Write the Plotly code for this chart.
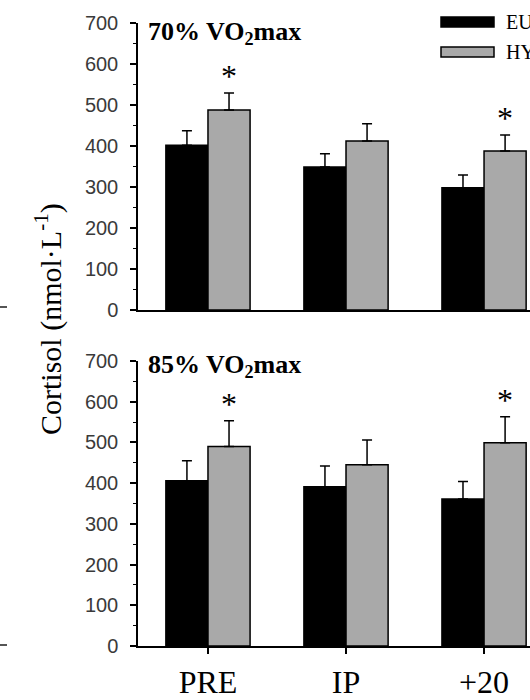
import plotly.graph_objects as go

# Sampling points
categories = ["PRE", "IP", "+20"]

# Cortisol (nmol·L-1), mean and SE, 70% VO2max session
eu_70 = [402, 349, 298]
eu_70_se = [35, 32, 31]
hy_70 = [488, 412, 388]
hy_70_se = [41, 42, 39]

# Cortisol (nmol·L-1), mean and SE, 85% VO2max session
eu_85 = [406, 391, 361]
eu_85_se = [49, 51, 43]
hy_85 = [490, 445, 499]
hy_85_se = [63, 61, 64]

# Significant EU vs HY differences
sig_70 = [True, False, True]
sig_85 = [True, False, True]

y_ticks = [0, 100, 200, 300, 400, 500, 600, 700]

W, H = 530, 700
L, R, T, B = 138, 0, 23, 54
plot_w = W - L - R
plot_h = H - T - B


def px_x(px):
    return (px - L) / plot_w


def px_y(py):
    return (H - B - py) / plot_h


SERIF = "Liberation Serif, Times New Roman, serif"
SANS = "Liberation Sans, Arial, sans-serif"
GRAY = "#a9a9a9"


def bar(x, y, se, color, xa, ya, name):
    return go.Bar(
        x=x, y=y, name=name, xaxis=xa, yaxis=ya, showlegend=False,
        marker=dict(color=color, line=dict(color="black", width=1.5)),
        error_y=dict(type="data", array=se, arrayminus=[0] * len(se),
                     symmetric=False, color="black", thickness=1.5, width=5),
    )


fig = go.Figure()
fig.add_trace(bar(categories, eu_70, eu_70_se, "black", "x", "y", "EU"))
fig.add_trace(bar(categories, hy_70, hy_70_se, GRAY, "x", "y", "HY"))
fig.add_trace(bar(categories, eu_85, eu_85_se, "black", "x2", "y2", "EU"))
fig.add_trace(bar(categories, hy_85, hy_85_se, GRAY, "x2", "y2", "HY"))

top_dom = [px_y(310), px_y(23)]
bot_dom = [px_y(646), px_y(361)]
x_range = [-0.507, 2.333]

yaxis_common = dict(
    range=[0, 700], tickvals=y_ticks, ticks="outside", ticklen=6, tickwidth=1.5,
    tickcolor="black", showline=True, linecolor="black", linewidth=1.5,
    showgrid=False, zeroline=False, ticklabelstandoff=8, automargin=False,
    tickfont=dict(family=SANS, size=20, color="#3a3a3a"),
    minor=dict(dtick=50, ticks="outside", ticklen=3, tickcolor="black", tickwidth=1.2, showgrid=False),
)

fig.update_layout(
    width=W, height=H,
    margin=dict(l=L, r=R, t=T, b=B),
    paper_bgcolor="white", plot_bgcolor="white",
    barmode="group", bargap=0.39, bargroupgap=0,
    xaxis=dict(domain=[0, 1], anchor="y", range=x_range, showticklabels=False,
               ticks="", showline=True, linecolor="black", linewidth=1.5,
               showgrid=False, zeroline=False, automargin=False),
    xaxis2=dict(domain=[0, 1], anchor="y2", range=x_range, ticks="outside",
                ticklen=6, tickwidth=1.5, tickcolor="black", showline=True,
                linecolor="black", linewidth=1.5, showgrid=False, zeroline=False,
                ticklabelstandoff=1, automargin=False,
                tickfont=dict(family=SERIF, size=32, color="black")),
    yaxis=dict(domain=top_dom, anchor="x", **yaxis_common),
    yaxis2=dict(domain=bot_dom, anchor="x2", **yaxis_common),
)

annotations = []

# Significance markers above the HY bars (x given as category index)
for xa, ya, vals, ses, sig in [("x", "y", hy_70, hy_70_se, sig_70),
                               ("x2", "y2", hy_85, hy_85_se, sig_85)]:
    for i, (v, s, flag) in enumerate(zip(vals, ses, sig)):
        if flag:
            annotations.append(dict(
                x=i, y=v + s, xref=xa, yref=ya, text="*", showarrow=False,
                xshift=21, yshift=17, yanchor="middle",
                font=dict(family=SERIF, size=32, color="black"),
            ))

# Panel titles
annotations.append(dict(x=px_x(146), y=px_y(33), xref="paper", yref="paper",
                        text="<b>70% VO<sub>2</sub>max</b>", showarrow=False,
                        xanchor="left", yanchor="middle",
                        font=dict(family=SERIF, size=26, color="black")))
annotations.append(dict(x=px_x(146), y=px_y(366), xref="paper", yref="paper",
                        text="<b>85% VO<sub>2</sub>max</b>", showarrow=False,
                        xanchor="left", yanchor="middle",
                        font=dict(family=SERIF, size=26, color="black")))

# Shared y-axis title
annotations.append(dict(x=px_x(48), y=px_y(319), xref="paper", yref="paper",
                        text="Cortisol (nmol·L<sup>-1</sup>)", showarrow=False,
                        textangle=-90, xanchor="center", yanchor="middle",
                        font=dict(family=SERIF, size=30, color="black")))

# Legend labels
annotations.append(dict(x=px_x(504), y=px_y(22), xref="paper", yref="paper",
                        text="EU", showarrow=False, xanchor="left", yanchor="middle",
                        font=dict(family=SERIF, size=20, color="black")))
annotations.append(dict(x=px_x(504), y=px_y(52), xref="paper", yref="paper",
                        text="HY", showarrow=False, xanchor="left", yanchor="middle",
                        font=dict(family=SERIF, size=20, color="black")))

shapes = [
    # Legend swatches
    dict(type="rect", xref="paper", yref="paper", x0=px_x(441), x1=px_x(494),
         y0=px_y(27), y1=px_y(17), fillcolor="black", line=dict(color="black", width=1.5)),
    dict(type="rect", xref="paper", yref="paper", x0=px_x(441), x1=px_x(494),
         y0=px_y(57), y1=px_y(47), fillcolor=GRAY, line=dict(color="black", width=1.5)),
    # Edge tick marks at the left border
    dict(type="line", xref="paper", yref="paper", x0=px_x(0), x1=px_x(7),
         y0=px_y(307), y1=px_y(307), line=dict(color="#555555", width=2)),
    dict(type="line", xref="paper", yref="paper", x0=px_x(0), x1=px_x(7),
         y0=px_y(645), y1=px_y(645), line=dict(color="#555555", width=2)),
]

fig.update_layout(annotations=annotations, shapes=shapes)

fig.write_html("out.html")
